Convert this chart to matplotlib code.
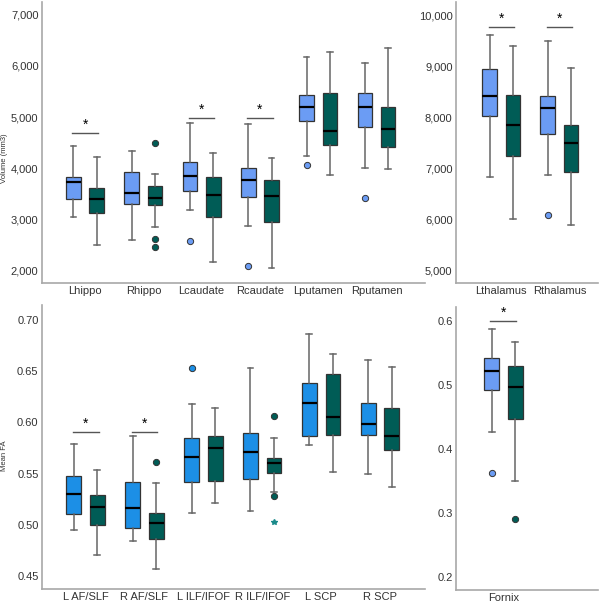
import matplotlib
matplotlib.use("Agg")
import matplotlib.pyplot as plt

plt.rcParams["font.family"] = ["Liberation Sans", "DejaVu Sans"]

# ---- data : [whisker low, Q1, median, Q3, whisker high] ----
vol_regions = ["Lhippo", "Rhippo", "Lcaudate", "Rcaudate", "Lputamen", "Rputamen"]
vol_ctrl = [[3040, 3386, 3725, 3817, 4438],
            [2588, 3288, 3503, 3928, 4333],
            [3170, 3556, 3850, 4118, 4876],
            [2876, 3438, 3758, 4007, 4863],
            [4242, 4915, 5196, 5425, 6183],
            [4000, 4804, 5203, 5464, 6052]]
vol_pat = [[2490, 3124, 3399, 3601, 4209],
           [2843, 3268, 3418, 3654, 3882],
           [2157, 3046, 3471, 3817, 4288],
           [2046, 2948, 3451, 3771, 4196],
           [3863, 4451, 4732, 5464, 6268],
           [3974, 4412, 4771, 5203, 6353]]
vol_ctrl_out = [[], [], [2582], [2085], [4065], [3412]]
vol_pat_out = [[], [4490, 2621, 2464], [], [], [], []]
vol_sig = [0, 2, 3]
vol_sig_y = [4693, 4987, 4987]

thal_regions = ["Lthalamus", "Rthalamus"]
thal_ctrl = [[6831, 8038, 8419, 8950, 9626],
             [6877, 7671, 8196, 8425, 9501]]
thal_pat = [[6004, 7251, 7861, 8451, 9416],
            [5892, 6929, 7507, 7861, 8983]]
thal_ctrl_out = [[], [6083]]
thal_pat_out = [[], []]
thal_sig = [0, 1]
thal_sig_y = [9783, 9783]

fa_tracts = ["L AF/SLF", "R AF/SLF", "L ILF/IFOF", "R ILF/IFOF", "L SCP", "R SCP"]
fa_ctrl = [[0.4946, 0.5105, 0.530, 0.548, 0.5789],
           [0.4839, 0.4965, 0.516, 0.5421, 0.587],
           [0.5112, 0.5415, 0.5662, 0.5851, 0.618],
           [0.5138, 0.5448, 0.5714, 0.5896, 0.6528],
           [0.5783, 0.587, 0.6186, 0.6388, 0.686],
           [0.5496, 0.5877, 0.5984, 0.619, 0.6606]]
fa_pat = [[0.4705, 0.4995, 0.5177, 0.529, 0.5532],
          [0.4572, 0.4865, 0.5018, 0.5112, 0.5405],
          [0.521, 0.5431, 0.5753, 0.5867, 0.6144],
          [0.5317, 0.5509, 0.5607, 0.5656, 0.5844],
          [0.5516, 0.588, 0.6056, 0.6473, 0.6671],
          [0.5366, 0.5734, 0.5867, 0.6144, 0.6541]]
fa_ctrl_out = [[], [], [0.6528], [], [], []]
fa_pat_out = [[], [0.561], [], [0.6066, 0.5284], [], []]
fa_pat_extreme = [[], [], [], [0.503], [], []]
fa_sig = [0, 1]
fa_sig_y = [0.5906, 0.5906]

fx_tracts = ["Fornix"]
fx_ctrl = [[0.427, 0.492, 0.521, 0.5413, 0.588]]
fx_pat = [[0.3496, 0.4473, 0.496, 0.5293, 0.567]]
fx_ctrl_out = [[0.3631]]
fx_pat_out = [[0.2909]]
fx_sig = [0]
fx_sig_y = [0.600]

LIGHT = "#6b9cf4"
BRIGHT = "#1c8fe6"
TEAL = "#005c56"
GREY = "#a8a8a8"
TXT = "#333333"


def stats(vals, outs):
    return [dict(whislo=v[0], q1=v[1], med=v[2], q3=v[3], whishi=v[4], fliers=o)
            for v, o in zip(vals, outs)]


def panel(ax, labels, ctrl, pat, c_out, p_out, c_col, sig, sig_y, xlim, extreme=None):
    n = len(labels)
    pos = list(range(n))
    for vals, outs, col, off in ((ctrl, c_out, c_col, -0.2), (pat, p_out, TEAL, 0.2)):
        ax.bxp(stats(vals, outs), positions=[p + off for p in pos], widths=0.25,
               patch_artist=True, manage_ticks=False,
               boxprops=dict(facecolor=col, edgecolor="#333333", lw=0.9),
               medianprops=dict(color="black", lw=1.6),
               whiskerprops=dict(color="#666666", lw=1.1),
               capprops=dict(color="#666666", lw=1.1), capwidths=0.1,
               flierprops=dict(marker="o", markerfacecolor=col, markeredgecolor="#333333",
                               markersize=4.5, mew=0.7))
    if extreme:
        for i, ex in enumerate(extreme):
            for v in ex:
                ax.plot(i + 0.2, v, marker="*", color="#1a8a8a", ms=4, ls="none")
    for i, y in zip(sig, sig_y):
        ax.plot([i - 0.22, i + 0.22], [y, y], color="#555555", lw=1)
        ax.annotate("*", (i, y), xytext=(0, 0.5), textcoords="offset points",
                    ha="center", va="bottom", fontsize=10, color="black")
    ax.set_xticks(pos)
    ax.set_xticklabels(labels)
    ax.set_xlim(*xlim)
    ax.tick_params(axis="x", length=0, labelsize=8, labelcolor=TXT, pad=2)
    ax.tick_params(axis="y", length=0, labelsize=8, labelcolor=TXT, pad=2.5)
    for s in ("top", "right"):
        ax.spines[s].set_visible(False)
    for s in ("left", "bottom"):
        ax.spines[s].set_color(GREY)
        ax.spines[s].set_linewidth(1.2)


fig = plt.figure(figsize=(6.0, 6.04), dpi=100)
ax1 = fig.add_axes([0.07, 0.531, 0.638, 0.466])
ax2 = fig.add_axes([0.76, 0.531, 0.237, 0.466])
ax3 = fig.add_axes([0.07, 0.025, 0.638, 0.47])
ax4 = fig.add_axes([0.76, 0.023, 0.237, 0.469])

panel(ax1, vol_regions, vol_ctrl, vol_pat, vol_ctrl_out, vol_pat_out, LIGHT,
      vol_sig, vol_sig_y, (-0.74, 5.83))
ax1.set_ylim(1745, 7255)
ax1.set_yticks([2000, 3000, 4000, 5000, 6000, 7000])
ax1.set_yticklabels(["2,000", "3,000", "4,000", "5,000", "6,000", "7,000"])
ax1.set_ylabel("Volume (mm3)", fontsize=5.5, color=TXT)
ax1.yaxis.set_label_coords(-0.088, 0.445)

panel(ax2, thal_regions, thal_ctrl, thal_pat, thal_ctrl_out, thal_pat_out, LIGHT,
      thal_sig, thal_sig_y, (-0.78, 1.67))
ax2.set_ylim(4744, 10276)
ax2.set_yticks([5000, 6000, 7000, 8000, 9000, 10000])
ax2.set_yticklabels(["5,000", "6,000", "7,000", "8,000", "9,000", "10,000"])

panel(ax3, fa_tracts, fa_ctrl, fa_pat, fa_ctrl_out, fa_pat_out, BRIGHT,
      fa_sig, fa_sig_y, (-0.74, 5.76), extreme=fa_pat_extreme)
ax3.set_ylim(0.4373, 0.7146)
ax3.set_yticks([0.45, 0.50, 0.55, 0.60, 0.65, 0.70])
ax3.set_yticklabels(["0.45", "0.50", "0.55", "0.60", "0.65", "0.70"])
ax3.set_ylabel("Mean FA", fontsize=5.5, color=TXT)
ax3.yaxis.set_label_coords(-0.088, 0.47)

panel(ax4, fx_tracts, fx_ctrl, fx_pat, fx_ctrl_out, fx_pat_out, LIGHT,
      fx_sig, fx_sig_y, (-0.8, 1.6))
ax4.set_ylim(0.1797, 0.6219)
ax4.set_yticks([0.2, 0.3, 0.4, 0.5, 0.6])
ax4.set_yticklabels(["0.2", "0.3", "0.4", "0.5", "0.6"])

fig.savefig("out.png", dpi=100, facecolor="white")
